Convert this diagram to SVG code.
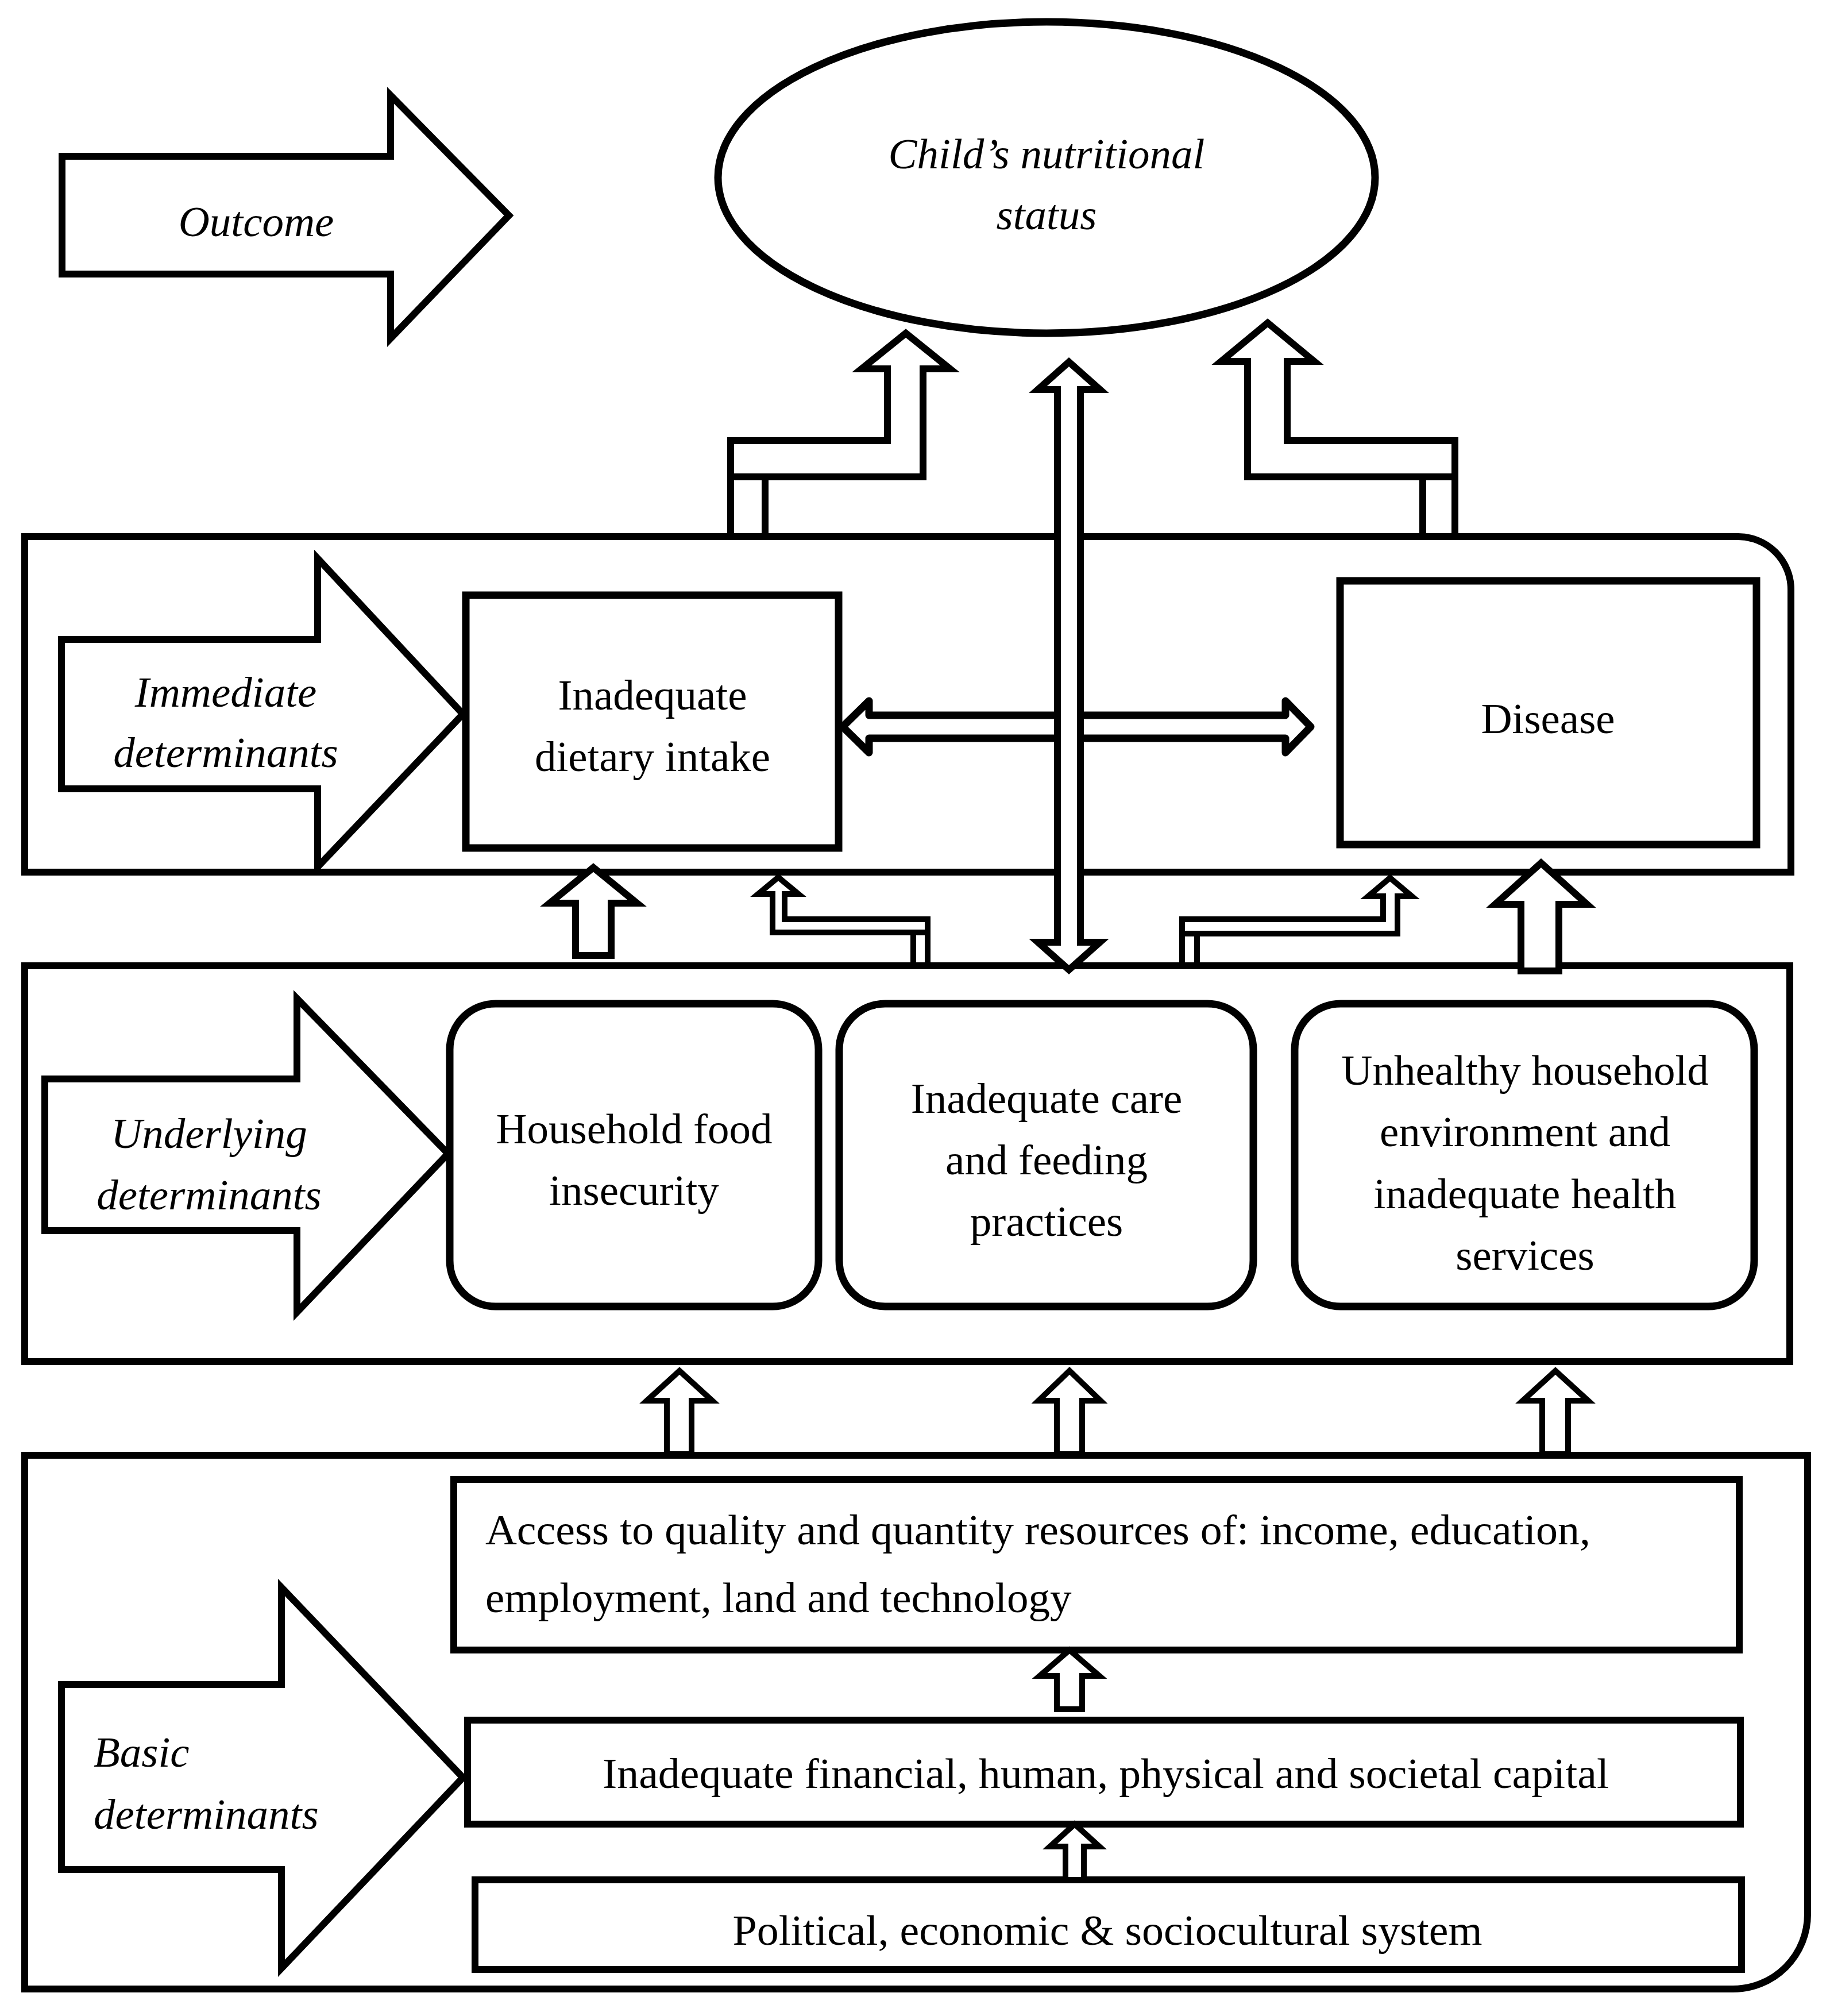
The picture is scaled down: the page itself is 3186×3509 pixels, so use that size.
<svg xmlns="http://www.w3.org/2000/svg" width="3186" height="3509" viewBox="0 0 3186 3509">
<style>
.ln{fill:#fff;stroke:#000;stroke-width:12;stroke-linejoin:miter;stroke-miterlimit:10}
.thin{fill:#fff;stroke:#000;stroke-width:10;stroke-linejoin:miter;stroke-miterlimit:10}
.rj{fill:#fff;stroke:#000;stroke-width:13;stroke-linejoin:round}
.t{font-family:"Liberation Serif","Times New Roman",serif;font-size:75px;fill:#000}
.c{text-anchor:middle}
.i{font-style:italic}
</style>
<rect width="3186" height="3509" fill="#fff"/>
<g id="panel-immediate">
<path class="ln" d="M43,934 H3026 A92,92 0 0 1 3118,1026 V1518 H43 Z"/>
</g>
<g id="panel-underlying">
<rect class="ln" x="43" y="1681" width="3073" height="689"/>
</g>
<g id="panel-basic">
<path class="ln" d="M43,2533 H3147 V3332 A130,130 0 0 1 3017,3462 H43 Z"/>
</g>
<g id="outcome-label">
<polygon class="ln" points="108,272 680,272 680,166 886,375 680,589 680,477 108,477"/>
<text class="t i c" x="446" y="411">Outcome</text>
</g>
<g id="child-status">
<ellipse cx="1822" cy="309" rx="572" ry="271" fill="#fff" stroke="#000" stroke-width="13"/>
<text class="t i c" x="1822" y="293">Child’s nutritional</text>
<text class="t i c" x="1822" y="399">status</text>
</g>
<g id="immediate-label">
<polygon class="ln" points="107,1113 553,1113 553,972 806,1243 553,1509 553,1373 107,1373"/>
<text class="t i c" x="393" y="1230">Immediate</text>
<text class="t i c" x="393" y="1335">determinants</text>
</g>
<g id="dietary">
<rect x="811" y="1036" width="649" height="440" fill="#fff" stroke="#000" stroke-width="13"/>
<text class="t c" x="1136" y="1235">Inadequate</text>
<text class="t c" x="1136" y="1342">dietary intake</text>
</g>
<g id="disease">
<rect x="2333" y="1011" width="725" height="459" fill="#fff" stroke="#000" stroke-width="13"/>
<text class="t c" x="2695" y="1276">Disease</text>
</g>
<g id="underlying-label">
<polygon class="ln" points="78,1878 517,1878 517,1738 780,2008 517,2284 517,2142 78,2142"/>
<text class="t i c" x="364" y="1998">Underlying</text>
<text class="t i c" x="364" y="2105">determinants</text>
</g>
<g id="food-insecurity">
<rect x="783" y="1747" width="642" height="527" rx="80" ry="80" fill="#fff" stroke="#000" stroke-width="13"/>
<text class="t c" x="1104" y="1990">Household food</text>
<text class="t c" x="1104" y="2097">insecurity</text>
</g>
<g id="care-feeding">
<rect x="1461" y="1747" width="721" height="527" rx="80" ry="80" fill="#fff" stroke="#000" stroke-width="13"/>
<text class="t c" x="1822" y="1937">Inadequate care</text>
<text class="t c" x="1822" y="2044">and feeding</text>
<text class="t c" x="1822" y="2151">practices</text>
</g>
<g id="environment-health">
<rect x="2254" y="1747" width="800" height="527" rx="80" ry="80" fill="#fff" stroke="#000" stroke-width="13"/>
<text class="t c" x="2655" y="1888">Unhealthy household</text>
<text class="t c" x="2655" y="1995">environment and</text>
<text class="t c" x="2655" y="2103">inadequate health</text>
<text class="t c" x="2655" y="2210">services</text>
</g>
<g id="basic-label">
<polygon class="ln" points="107,2932 490,2932 490,2763 806,3094 490,3426 490,3254 107,3254"/>
<text class="t i" x="163" y="3075">Basic</text>
<text class="t i" x="163" y="3183">determinants</text>
</g>
<g id="access-resources">
<rect class="ln" x="790" y="2575" width="2238" height="297"/>
<text class="t" x="845" y="2688" textLength="1924" lengthAdjust="spacingAndGlyphs">Access to quality and quantity resources of: income, education,</text>
<text class="t" x="845" y="2806">employment, land and technology</text>
</g>
<g id="capital">
<rect class="ln" x="814" y="2994" width="2216" height="181"/>
<text class="t c" x="1925" y="3112" textLength="1752" lengthAdjust="spacingAndGlyphs">Inadequate financial, human, physical and societal capital</text>
</g>
<g id="political-system">
<rect class="ln" x="827" y="3272" width="2205" height="156"/>
<text class="t c" x="1928" y="3385" textLength="1305" lengthAdjust="spacingAndGlyphs">Political, economic &amp; sociocultural system</text>
</g>
<g id="connectors">
<polygon class="ln" points="1272,830 1607,830 1607,642 1654,642 1577,580 1500,642 1545,642 1545,767 1272,767"/>
<rect class="ln" x="1272" y="830" width="60" height="104"/>
<polygon class="ln" points="2172,830 2533,830 2533,767 2241,767 2241,629 2288,629 2207,562 2126,629 2172,629"/>
<rect class="ln" x="2477" y="830" width="56" height="104"/>
<polygon class="rj" points="1467,1265 1513,1220 1513,1245 2238,1245 2238,1220 2282,1265 2238,1310 2238,1285 1513,1285 1513,1310"/>
<polygon class="ln" points="1841,678 1807,678 1861,630 1915,678 1881,678 1881,1640 1915,1640 1861,1688 1807,1640 1841,1640"/>
<polygon class="ln" points="1002,1663 1064,1663 1064,1572 1109,1572 1033,1510 957,1572 1002,1572"/>
<polygon class="thin" points="1345,1623 1615,1623 1615,1600 1366,1600 1366,1556 1390,1556 1355,1527 1320,1556 1345,1556"/>
<rect class="thin" x="1590" y="1623" width="25" height="57"/>
<polygon class="thin" points="2058,1625 2433,1625 2433,1560 2458,1560 2420,1528 2382,1560 2408,1560 2408,1600 2058,1600"/>
<rect class="thin" x="2058" y="1625" width="26" height="55"/>
<polygon class="ln" points="2648,1690 2714,1690 2714,1574 2763,1574 2683,1502 2603,1574 2648,1574"/>
<polygon class="thin" points="1161,2531 1204,2531 1204,2438 1240,2438 1183,2386 1126,2438 1161,2438"/>
<polygon class="thin" points="1840,2531 1884,2531 1884,2438 1916,2438 1862,2386 1808,2438 1840,2438"/>
<polygon class="thin" points="2685,2531 2730,2531 2730,2438 2765,2438 2708,2386 2651,2438 2685,2438"/>
<polygon class="thin" points="1840,2975 1884,2975 1884,2917 1914,2917 1862,2872 1810,2917 1840,2917"/>
<polygon class="thin" points="1855,3272 1887,3272 1887,3214 1914,3214 1871,3175 1828,3214 1855,3214"/>
</g>
</svg>
